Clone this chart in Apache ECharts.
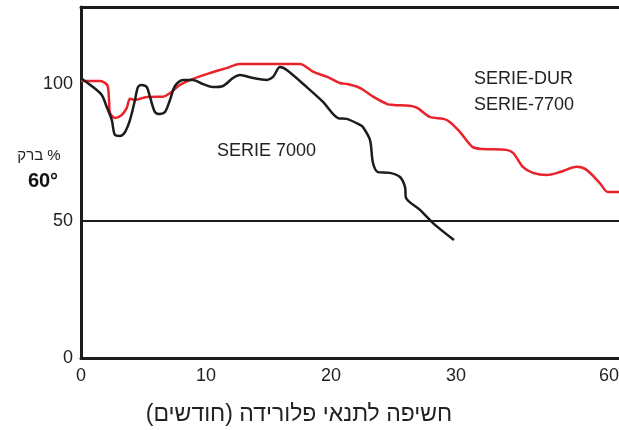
<!DOCTYPE html>
<html>
<head>
<meta charset="utf-8">
<script src="https://cdn.jsdelivr.net/npm/echarts@6.0.0/dist/echarts.min.js"></script>
<style>
  html, body { margin: 0; padding: 0; background: #ffffff; }
  #chart { width: 619px; height: 430px; }
</style>
</head>
<body>
<div id="chart"></div>
<script>
// ---- Data (months of Florida exposure vs. 60° gloss %) ----
const xTickValues = [0, 10, 20, 30, 60];
const yTickValues = [0, 50, 100];

// SERIE-DUR / SERIE-7700 (red)
const redMonths = [0, 1.5, 2.1, 2.24, 2.32, 2.72, 3.26, 3.66, 3.92, 4.32, 5.26, 6.06, 6.56, 7.12, 7.92, 8.96, 10.3, 11.7, 12.7, 17.5, 18.6, 19.7, 20.7, 21.3, 22.3, 23.4, 24.5, 25.0, 26.3, 26.9, 27.9, 29.0, 29.5, 30.8, 33.3, 35.3, 39.9, 41.2, 43.1, 45.1, 47.8, 50.4, 53.7, 55.6, 58.2, 59.8, 60.8];
const redGloss  = [101, 101, 99.5, 94.1, 89.4, 87.5, 88.6, 91.2, 94.5, 94.1, 95.2, 95.3, 95.3, 96.6, 99.6, 101.8, 103.9, 105.8, 107.2, 107.2, 104.3, 102.5, 100.3, 99.9, 98.5, 95.2, 92.6, 92.3, 92.0, 91.2, 87.9, 87.2, 86.1, 82.4, 76.9, 76.2, 75.9, 74.8, 69.7, 67.5, 66.7, 67.8, 69.7, 68.6, 63.8, 60.5, 60.5];

// SERIE 7000 (black)
const blackMonths = [0, 0.96, 1.66, 2.06, 2.46, 2.72, 3.12, 3.52, 3.92, 4.32, 4.56, 4.86, 5.26, 5.52, 5.92, 6.32, 6.72, 7.12, 7.52, 8.16, 8.96, 9.76, 10.56, 11.36, 12.16, 12.72, 13.76, 14.86, 15.36, 15.92, 16.46, 18.06, 19.36, 20.56, 21.26, 22.32, 22.56, 23.12, 23.36, 23.76, 24.72, 25.52, 25.92, 26.0, 27.12, 28.16, 29.84];
const blackGloss  = [102, 98.8, 95.9, 91.5, 86.8, 81.3, 81.0, 82.4, 86.8, 94.1, 98.8, 99.6, 98.8, 95.2, 89.7, 89.0, 89.7, 94.1, 99.2, 101.4, 101.4, 99.9, 98.8, 99.2, 102.1, 103.2, 102.1, 101.4, 102.5, 106.1, 105.0, 98.8, 93.4, 87.5, 87.2, 85.0, 84.2, 79.5, 71.1, 67.8, 67.5, 66.0, 62.4, 58.4, 54.0, 49.2, 43.0];

const seriesNames = ['SERIE 7000', 'SERIE-DUR', 'SERIE-7700'];
const yAxisName1 = 'ברק %';
const yAxisName2 = '60°';
const xAxisName = '\u200Fחשיפה לתנאי פלורידה (חודשים)\u200F';

const zip = (xs, ys) => xs.map((x, i) => [x, ys[i]]);

const FONT = '"Liberation Sans", Arial, Helvetica, sans-serif';
const INK = '#1c1c1c';
const RED = '#e8232b';

const chart = echarts.init(document.getElementById('chart'), null, { renderer: 'canvas' });

const frameAxis = (position) => ({
  type: 'value',
  position: position,
  min: 0,
  max: 1,
  axisLine: { show: true, onZero: false, lineStyle: { color: INK, width: 3 } },
  axisTick: { show: false },
  splitLine: { show: false },
  axisLabel: { show: false }
});

const option = {
  backgroundColor: '#ffffff',
  animation: false,
  grid: { left: 81, right: 0, top: 7, bottom: 72, containLabel: false, outerBoundsMode: 'none' },
  xAxis: [{
    type: 'value',
    position: 'bottom',
    min: 0,
    max: 60.8,
    interval: 10,
    breaks: [{ start: 30, end: 60, gap: 12.24 }],
    breakArea: { show: false },
    axisLine: { show: false, onZero: false },
    axisTick: { show: false },
    splitLine: { show: false },
    axisLabel: {
      fontSize: 18, color: '#222', fontFamily: FONT, margin: 9,
      customValues: xTickValues
    }
  }, frameAxis('bottom'), frameAxis('top')],
  yAxis: {
    type: 'value',
    min: 0,
    max: 128,
    interval: 50,
    axisLine: { show: true, onZero: false, lineStyle: { color: INK, width: 3 } },
    axisTick: { show: false },
    splitLine: { show: false },
    axisLabel: {
      fontSize: 18, color: '#222', fontFamily: FONT, margin: 8,
      customValues: yTickValues
    }
  },
  series: [{
    name: seriesNames[1],
    type: 'line',
    xAxisIndex: 0,
    data: zip(redMonths, redGloss),
    showSymbol: false,
    smooth: 0.3,
    lineStyle: { color: RED, width: 2.5 },
    z: 3
  }, {
    name: seriesNames[0],
    type: 'line',
    xAxisIndex: 0,
    data: zip(blackMonths, blackGloss),
    showSymbol: false,
    smooth: 0.3,
    lineStyle: { color: INK, width: 2.5 },
    z: 4,
    markLine: {
      silent: true,
      symbol: 'none',
      label: { show: false },
      lineStyle: { color: INK, width: 2, type: 'solid' },
      data: [{ yAxis: 50 }]
    }
  }],
  graphic: [
    { type: 'text', left: 217, top: 142, style: { text: seriesNames[0], fontSize: 18, fontFamily: FONT, fill: '#222' } },
    { type: 'text', left: 474, top: 70, style: { text: seriesNames[1], fontSize: 18, fontFamily: FONT, fill: '#222' } },
    { type: 'text', left: 474, top: 96, style: { text: seriesNames[2], fontSize: 18, fontFamily: FONT, fill: '#222' } },
    { type: 'text', x: 39, y: 156, style: { text: yAxisName1, fontSize: 15, fontFamily: FONT, fill: '#222', align: 'center', verticalAlign: 'middle' } },
    { type: 'text', x: 43, y: 181, style: { text: yAxisName2, fontSize: 20, fontWeight: 'bold', fontFamily: FONT, fill: '#111', align: 'center', verticalAlign: 'middle' } },
    { type: 'text', x: 299, y: 415, style: { text: xAxisName, fontSize: 23, fontFamily: FONT, fill: '#222', align: 'center', verticalAlign: 'middle' } }
  ]
};

chart.setOption(option);
</script>
</body>
</html>
